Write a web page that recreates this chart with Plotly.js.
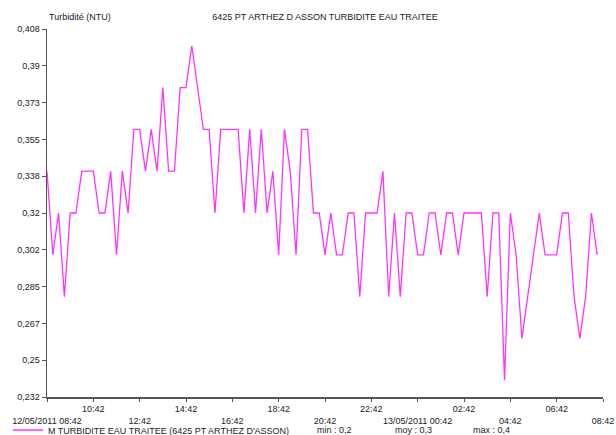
<!DOCTYPE html>
<html>
<head>
<meta charset="utf-8">
<script src="https://cdn.plot.ly/plotly-3.0.1.min.js"></script>
<style>html,body{margin:0;padding:0;background:#fff;}#chart{width:616px;height:435px;}</style>
</head>
<body>
<div id="chart"></div>
<script>
// ---- data ----
var startTime = '2011-05-12 08:42';
var stepMinutes = 15;
var turbidity = [
  0.34, 0.30, 0.32, 0.28, 0.32, 0.32, 0.34, 0.34, 0.34, 0.32,
  0.32, 0.34, 0.30, 0.34, 0.32, 0.36, 0.36, 0.34, 0.36, 0.34,
  0.38, 0.34, 0.34, 0.38, 0.38, 0.40, 0.38, 0.36, 0.36, 0.32,
  0.36, 0.36, 0.36, 0.36, 0.32, 0.36, 0.32, 0.36, 0.32, 0.34,
  0.30, 0.36, 0.34, 0.30, 0.36, 0.36, 0.32, 0.32, 0.30, 0.32,
  0.30, 0.30, 0.32, 0.32, 0.28, 0.32, 0.32, 0.32, 0.34, 0.28,
  0.32, 0.28, 0.32, 0.32, 0.30, 0.30, 0.32, 0.32, 0.30, 0.32,
  0.32, 0.30, 0.32, 0.32, 0.32, 0.32, 0.28, 0.32, 0.32, 0.24,
  0.32, 0.30, 0.26, 0.28, 0.30, 0.32, 0.30, 0.30, 0.30, 0.32,
  0.32, 0.28, 0.26, 0.28, 0.32, 0.30
];
var xTickVals = [
  '2011-05-12 08:42', '2011-05-12 10:42', '2011-05-12 12:42', '2011-05-12 14:42',
  '2011-05-12 16:42', '2011-05-12 18:42', '2011-05-12 20:42', '2011-05-12 22:42',
  '2011-05-13 00:42', '2011-05-13 02:42', '2011-05-13 04:42', '2011-05-13 06:42',
  '2011-05-13 08:42'
];
var xTickLabels = [
  '12/05/2011 08:42', '10:42', '12:42', '14:42', '16:42', '18:42', '20:42',
  '22:42', '13/05/2011 00:42', '02:42', '04:42', '06:42', '08:42'
];
var yTickVals = [0.232, 0.2496, 0.2672, 0.2848, 0.3024, 0.32, 0.3376, 0.3552, 0.3728, 0.3904, 0.408];
var yTickLabels = ['0,232', '0,25', '0,267', '0,285', '0,302', '0,32', '0,338', '0,355', '0,373', '0,39', '0,408'];
var seriesName = "M TURBIDITE EAU TRAITEE (6425 PT ARTHEZ D'ASSON)";
var chartTitle = '6425 PT ARTHEZ D ASSON TURBIDITE EAU TRAITEE';
var yTitle = 'Turbidité (NTU)';

// ---- build ----
function pad(n){return (n<10?'0':'')+n;}
var t0 = new Date(startTime.replace(' ', 'T') + ':00Z').getTime();
var times = turbidity.map(function(_, i){
  var d = new Date(t0 + i*stepMinutes*60000);
  return d.getUTCFullYear()+'-'+pad(d.getUTCMonth()+1)+'-'+pad(d.getUTCDate())+' '+pad(d.getUTCHours())+':'+pad(d.getUTCMinutes());
});
var xTickText = xTickLabels.map(function(s, i){ return i % 2 === 0 ? '\u00a0<br>' + s : s; });

var mn = Math.min.apply(null, turbidity), mx = Math.max.apply(null, turbidity);
var avg = turbidity.reduce(function(a,b){return a+b;},0)/turbidity.length;
function fmt(v){ return v.toFixed(1).replace('.', ','); }

var font = {family: 'Liberation Sans, Arial, sans-serif', size: 9, color: '#222'};
var plotH = 435 - 29 - 38;
var topY = (435 - 38 - 17) / plotH;     // paper y for the header row
var botY = (435 - 38 - 430) / plotH;    // paper y for the legend row

var trace = {
  x: times, y: turbidity, type: 'scatter', mode: 'lines',
  name: seriesName,
  line: {color: '#ff33ff', width: 1.3}
};

var layout = {
  width: 616, height: 435,
  margin: {l: 47, r: 13, t: 29, b: 38, autoexpand: false},
  paper_bgcolor: '#fff', plot_bgcolor: '#fff',
  font: font,
  showlegend: true,
  title: {text: chartTitle, font: font, x: 0.5, xref: 'paper', y: 1 - 17/435, yref: 'container', yanchor: 'middle'},
  xaxis: {
    type: 'date', range: [xTickVals[0], xTickVals[xTickVals.length-1]],
    tickmode: 'array', tickvals: xTickVals, ticktext: xTickText,
    showgrid: false, zeroline: false, showline: true, linecolor: '#555', linewidth: 1.5,
    ticks: 'outside', ticklen: 3, tickcolor: '#555', tickwidth: 1, tickangle: 0,
    tickfont: font
  },
  yaxis: {
    range: [yTickVals[0], yTickVals[yTickVals.length-1]],
    tickmode: 'array', tickvals: yTickVals, ticktext: yTickLabels,
    showgrid: false, zeroline: false, showline: true, linecolor: '#555', linewidth: 1.5,
    ticks: 'outside', ticklen: 4, tickcolor: '#555', tickwidth: 1,
    tickfont: font
  },
  legend: {
    orientation: 'h', xref: 'container', yref: 'container',
    x: 8/616, y: 5/435, xanchor: 'left', yanchor: 'middle',
    font: font, bgcolor: 'rgba(0,0,0,0)', borderwidth: 0
  },
  annotations: [
    {text: yTitle, xref: 'paper', yref: 'paper', x: 0, y: topY, xanchor: 'left', yanchor: 'middle', showarrow: false, font: font},
    {text: 'min : ' + fmt(mn), xref: 'paper', yref: 'paper', x: (315-47)/556, y: botY, xanchor: 'left', yanchor: 'middle', showarrow: false, font: font},
    {text: 'moy : ' + fmt(avg), xref: 'paper', yref: 'paper', x: (393-47)/556, y: botY, xanchor: 'left', yanchor: 'middle', showarrow: false, font: font},
    {text: 'max : ' + fmt(mx), xref: 'paper', yref: 'paper', x: (471-47)/556, y: botY, xanchor: 'left', yanchor: 'middle', showarrow: false, font: font}
  ]
};

Plotly.newPlot('chart', [trace], layout, {displayModeBar: false, staticPlot: true});
</script>
</body>
</html>
